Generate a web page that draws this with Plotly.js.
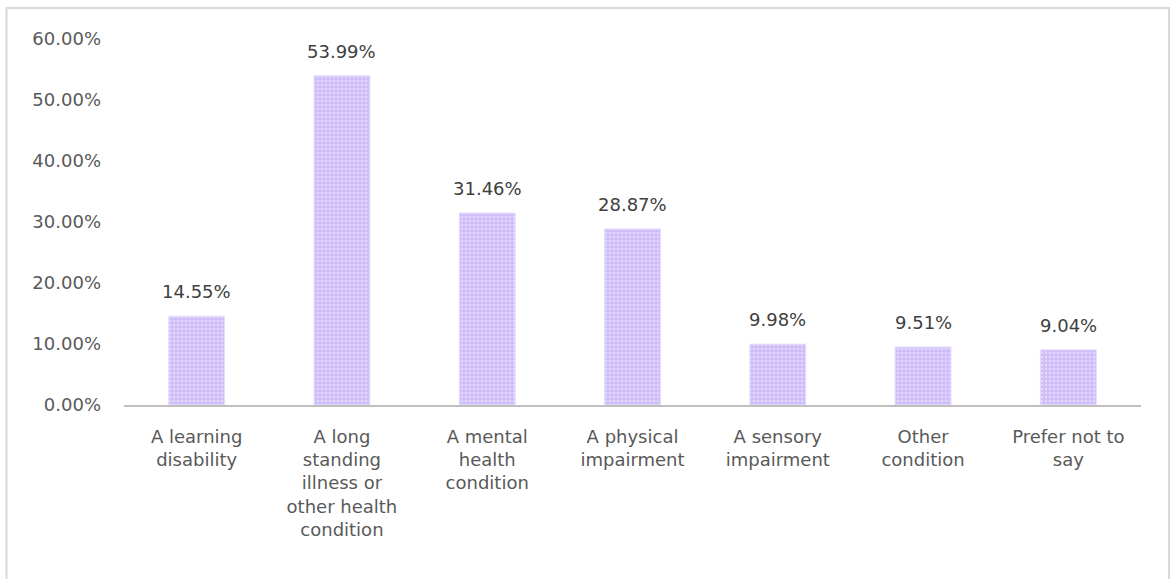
<!DOCTYPE html>
<html>
<head>
<meta charset="utf-8">
<script src="https://cdn.plot.ly/plotly-3.0.1.min.js"></script>
<style>html,body{margin:0;padding:0;background:#fff;}#chart{width:1171px;height:579px;}</style>
</head>
<body>
<div id="chart"></div>
<script>
const categories = [
  "A learning<br>disability",
  "A long<br>standing<br>illness or<br>other health<br>condition",
  "A mental<br>health<br>condition",
  "A physical<br>impairment",
  "A sensory<br>impairment",
  "Other<br>condition",
  "Prefer not to<br>say"
];
const values = [14.55, 53.99, 31.46, 28.87, 9.98, 9.51, 9.04];
const yTickVals = [0, 10, 20, 30, 40, 50, 60];
const yTickText = ["0.00%", "10.00%", "20.00%", "30.00%", "40.00%", "50.00%", "60.00%"];

const font = {family: "'DejaVu Sans', sans-serif", size: 18, color: "#595959"};
const labelFont = {family: "'DejaVu Sans', sans-serif", size: 18, color: "#404040"};

const trace = {
  type: "bar",
  x: categories,
  y: values,
  width: 0.385,
  marker: {
    color: "#d4c6fa",
    line: {color: "#e6ddfc", width: 1},
    pattern: {shape: ".", fgcolor: "#f3effd", bgcolor: "#cfbdf8", size: 4, solidity: 0.35, fillmode: "overlay"}
  },
  hoverinfo: "none"
};

const annotations = categories.map((c, i) => ({
  x: c, y: values[i], xref: "x", yref: "y",
  text: values[i].toFixed(2) + "%",
  showarrow: false, yanchor: "bottom", yshift: 12,
  font: labelFont
}));

const layout = {
  width: 1171,
  height: 579,
  margin: {l: 124, r: 30, t: 39, b: 174},
  paper_bgcolor: "#ffffff",
  plot_bgcolor: "#ffffff",
  font: font,
  showlegend: false,
  bargap: 0.615,
  annotations: annotations,
  xaxis: {
    showline: true,
    linecolor: "#bfbfbf",
    linewidth: 2,
    ticks: "",
    showgrid: false,
    tickfont: font,
    ticklabelstandoff: 14,
    automargin: false
  },
  yaxis: {
    range: [0, 60],
    tickvals: yTickVals,
    ticktext: yTickText,
    showgrid: false,
    zeroline: false,
    showline: false,
    ticks: "",
    ticklabelstandoff: 22,
    tickfont: font,
    automargin: false
  },
  shapes: [
    {type: "rect", xref: "paper", yref: "paper", x0: -0.1155, x1: 1.0275, y0: -0.6, y1: 1.0847,
     line: {color: "#d9d9d9", width: 2}, fillcolor: "rgba(0,0,0,0)", layer: "below"}
  ]
};

Plotly.newPlot("chart", [trace], layout, {staticPlot: true, displayModeBar: false});
</script>
</body>
</html>
